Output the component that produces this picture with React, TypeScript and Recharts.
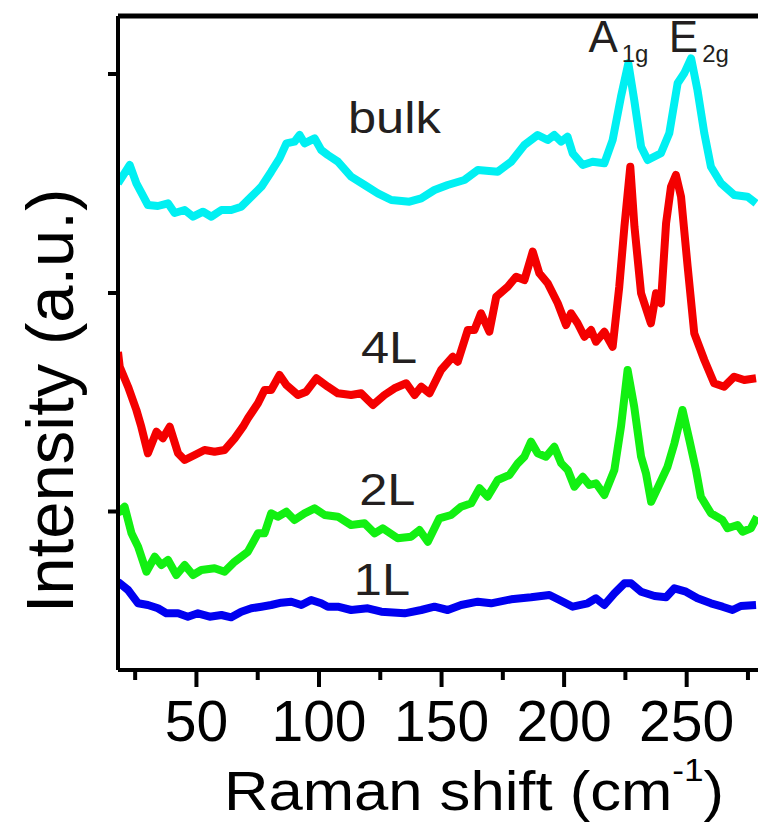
import React from 'react';
import { LineChart, Line, XAxis, YAxis, ReferenceDot, ReferenceArea } from 'recharts';

const FONT = '"Liberation Sans", Arial, sans-serif';
const INK = '#231f20';

// [Raman shift (cm-1), intensity (a.u.)]
const bulk: [number, number][] = [
  [18, 4867], [22.8, 5050], [25.5, 4867], [30.2, 4650], [34.3, 4640], [38.4, 4667], [41.1, 4570],
  [45.2, 4600], [48.6, 4533], [52.7, 4583], [56.1, 4533], [60.2, 4600], [64.2, 4600], [68.3, 4633],
  [72.4, 4733], [76.5, 4833], [80.5, 4983], [83.9, 5117], [86.7, 5267], [90.0, 5283], [92.1, 5350],
  [94.1, 5267], [98.2, 5317], [100.9, 5200], [103.6, 5150], [107.7, 5083], [113.1, 4933], [118.6, 4850],
  [124.0, 4767], [129.5, 4700], [136.9, 4683], [141.7, 4717], [147.1, 4800], [152.5, 4850], [159.3, 4900],
  [164.8, 5000], [172.9, 4983], [178.4, 5083], [183.8, 5250], [189.2, 5350], [193.3, 5300], [196.0, 5350],
  [198.8, 5283], [201.4, 5333], [203.5, 5167], [207.6, 5050], [211.6, 5083], [216.4, 5067], [219.8, 5300],
  [223.2, 5733], [226.2, 6067], [228.6, 5700], [231.4, 5233], [234.1, 5100], [239.5, 5167], [242.9, 5367],
  [246.3, 5867], [249.0, 5967], [251.8, 6117], [254.4, 5800], [257.2, 5367], [259.9, 5033], [264.0, 4867],
  [269.4, 4750], [274.8, 4733], [278.3, 4667],
];

const fourLayer: [number, number][] = [
  [18, 3180], [18.7, 3033], [22.1, 2833], [25.5, 2600], [27.5, 2433], [30.2, 2167], [33.7, 2383],
  [36.3, 2317], [39.1, 2433], [42.5, 2167], [45.2, 2100], [49.3, 2150], [53.3, 2200], [57.4, 2183],
  [61.5, 2200], [65.6, 2317], [69.0, 2433], [71.0, 2517], [75.1, 2667], [77.8, 2800], [80.5, 2800],
  [83.9, 2950], [86.7, 2850], [91.4, 2750], [94.8, 2783], [98.9, 2917], [103.6, 2833], [107.7, 2767],
  [113.1, 2750], [117.2, 2767], [122.0, 2650], [126.7, 2750], [130.8, 2817], [135.6, 2867], [139.0, 2750],
  [141.7, 2833], [145.1, 2767], [149.8, 3000], [154.6, 3133], [156.6, 3083], [160.7, 3400], [163.4, 3400],
  [166.1, 3567], [169.5, 3383], [172.3, 3733], [177.0, 3833], [180.4, 3933], [183.8, 3900], [187.2, 4183],
  [189.9, 3967], [193.3, 3867], [197.4, 3667], [200.8, 3450], [202.8, 3567], [205.5, 3467], [208.3, 3333],
  [211.0, 3400], [213.0, 3283], [216.4, 3383], [219.8, 3233], [222.5, 3833], [224.6, 4433], [227.0, 5033],
  [228.7, 4433], [231.4, 3767], [235.4, 3467], [237.5, 3767], [239.5, 3667], [241.6, 4467], [243.6, 4833],
  [245.6, 4950], [247.7, 4733], [250.4, 4033], [253.1, 3367], [257.2, 3100], [261.2, 2867], [265.3, 2833],
  [269.4, 2933], [273.5, 2900], [278.3, 2917],
];

const twoLayer: [number, number][] = [
  [18, 1570], [20.7, 1633], [23.5, 1367], [26.2, 1233], [29.6, 983], [33.0, 1133], [35.7, 1050],
  [38.4, 1100], [41.8, 950], [45.2, 1050], [48.6, 950], [52.0, 1000], [57.4, 1017], [61.5, 983],
  [65.6, 1083], [71.0, 1183], [75.1, 1367], [77.8, 1367], [80.5, 1567], [83.2, 1533], [86.7, 1583],
  [90.0, 1500], [94.1, 1567], [98.2, 1617], [102.3, 1550], [107.7, 1533], [113.1, 1450], [118.6, 1467],
  [122.7, 1367], [126.0, 1417], [132.1, 1317], [137.6, 1333], [141.0, 1400], [144.4, 1283], [149.1, 1517],
  [153.9, 1550], [158.0, 1633], [162.1, 1667], [165.5, 1817], [168.8, 1733], [172.9, 1900], [177.7, 1950],
  [181.1, 2067], [183.8, 2133], [186.5, 2283], [189.2, 2167], [192.6, 2133], [196.0, 2233], [198.8, 2067],
  [201.5, 2000], [204.2, 1833], [207.6, 1933], [210.3, 1850], [213.0, 1867], [216.4, 1750], [220.5, 2000],
  [223.2, 2433], [225.9, 3000], [228.6, 2633], [231.4, 2133], [233.4, 1967], [235.5, 1683], [238.1, 1817],
  [242.2, 2033], [245.0, 2267], [248.3, 2600], [251.1, 2300], [253.8, 2000], [255.8, 1733], [259.9, 1567],
  [264.6, 1500], [266.7, 1417], [270.8, 1450], [272.8, 1383], [276.2, 1417], [278.7, 1533],
];

const oneLayer: [number, number][] = [
  [18, 880], [22.1, 800], [26.2, 667], [30.2, 650], [34.3, 617], [37.7, 567], [42.5, 567],
  [46.5, 533], [50.6, 567], [55.4, 533], [60.2, 550], [64.2, 527], [68.3, 583], [72.4, 617],
  [76.5, 633], [80.5, 650], [84.6, 673], [88.7, 683], [92.8, 650], [96.8, 700], [100.9, 667],
  [103.6, 633], [107.7, 633], [113.1, 600], [119.9, 617], [125.4, 583], [134.9, 567], [141.7, 600],
  [147.1, 633], [152.5, 600], [158.0, 650], [164.8, 683], [170.2, 667], [178.4, 707], [186.5, 727],
  [194.0, 750], [198.1, 700], [203.5, 633], [209.6, 667], [213.0, 717], [216.4, 650], [220.5, 767],
  [224.6, 867], [227.3, 867], [231.4, 783], [236.9, 740], [241.6, 727], [245.0, 817], [249.7, 783],
  [254.4, 717], [259.9, 667], [264.6, 633], [268.7, 600], [272.1, 640], [278.3, 650],
];

const shiftDomain = [18, 279.1];
const shiftTicks = [25, 50, 75, 100, 125, 150, 175, 200, 225, 250, 275];
const shiftLabels = [50, 100, 150, 200, 250];
const intensityDomain = [0, 6540];
const intensityTicks = [1585, 3770, 5960];
// band that forms the top edge of the frame
const frameTop = [6515, 6565];

// sample names, placed in data coordinates
const sampleNames = [
  { text: 'bulk', shift: 111.8, intensity: 5370 },
  { text: '4L', shift: 117.1, intensity: 3070 },
  { text: '2L', shift: 116.4, intensity: 1650 },
  { text: '1L', shift: 114.2, intensity: 750 },
];
const modeNames = [
  { main: 'A', sub: '1g', shift: 209.9, intensity: 6183 },
  { main: 'E', sub: '2g', shift: 242.7, intensity: 6183 },
];

const toPoints = (rows: [number, number][]) => rows.map(([shift, intensity]) => ({ shift, intensity }));

const series = [
  { name: 'bulk', rows: bulk, color: '#00f0f2' },
  { name: '4L', rows: fourLayer, color: '#f40000' },
  { name: '2L', rows: twoLayer, color: '#12f012' },
  { name: '1L', rows: oneLayer, color: '#0000f0' },
];

const ShiftTick = (props: any) => {
  const { x, y, payload } = props;
  const major = shiftLabels.includes(payload.value);
  return (
    <g>
      <line x1={x} x2={x} y1={y} y2={y + (major ? 17 : 10)} stroke="#000" strokeWidth={4} />
      {major && (
        <text x={x} y={y + 71} textAnchor="middle" fontSize={57} fontFamily={FONT} fill="#000">
          {payload.value}
        </text>
      )}
    </g>
  );
};

const IntensityTick = (props: any) => {
  const { x, y } = props;
  return <line x1={x - 10} x2={x} y1={y} y2={y} stroke="#000" strokeWidth={4} />;
};

const XTitle = (props: any) => {
  const vb = props.viewBox || { x: 118, y: 670, width: 640, height: 155 };
  const cx = vb.x + vb.width / 2 + 36;
  const cy = vb.y + 140;
  return (
    <text transform={`translate(${cx},${cy}) scale(1.1,1)`} textAnchor="middle" fontSize={56} fontFamily={FONT} fill="#000">
      <tspan>Raman shift (cm</tspan>
      <tspan dy={-29} fontSize={32}>-1</tspan>
      <tspan dy={29}>)</tspan>
    </text>
  );
};

const YTitle = (props: any) => {
  const vb = props.viewBox || { x: 0, y: 16, width: 118, height: 654 };
  const cx = vb.x + 73;
  const cy = vb.y + vb.height / 2 + 58;
  return (
    <text x={cx} y={cy} transform={`rotate(-90 ${cx} ${cy})`} textAnchor="middle" fontSize={67} fontFamily={FONT} fill="#000">
      Intensity (a.u.)
    </text>
  );
};

export default function App() {
  return (
    <div style={{ position: 'absolute', left: 0, top: 0, width: 758, height: 825, background: '#fff' }}>
      <LineChart width={758} height={825} margin={{ top: 16, right: 0, bottom: 0, left: 0 }}>
        <XAxis
          type="number"
          dataKey="shift"
          domain={shiftDomain}
          ticks={shiftTicks}
          interval={0}
          allowDataOverflow
          height={155}
          axisLine={{ stroke: '#000', strokeWidth: 4 }}
          tickLine={false}
          tickSize={0}
          tickMargin={0}
          tick={<ShiftTick />}
          label={{ content: <XTitle /> }}
        />
        <YAxis
          type="number"
          dataKey="intensity"
          domain={intensityDomain}
          ticks={intensityTicks}
          interval={0}
          allowDataOverflow
          width={118}
          axisLine={{ stroke: '#000', strokeWidth: 4 }}
          tickLine={false}
          tickSize={0}
          tickMargin={0}
          tick={<IntensityTick />}
          label={{ content: <YTitle /> }}
        />
        <ReferenceArea
          y1={frameTop[0]}
          y2={frameTop[1]}
          ifOverflow="visible"
          fill="#000"
          fillOpacity={1}
          stroke="none"
        />
        {series.map((s) => (
          <Line
            key={s.name}
            data={toPoints(s.rows)}
            dataKey="intensity"
            type="linear"
            stroke={s.color}
            strokeWidth={8}
            strokeLinejoin="round"
            dot={false}
            isAnimationActive={false}
          />
        ))}
        {sampleNames.map((n) => (
          <ReferenceDot
            key={n.text}
            x={n.shift}
            y={n.intensity}
            r={0}
            ifOverflow="visible"
            shape={(p: any) => (
              <text transform={`translate(${p.cx},${p.cy}) scale(1.15,1)`} fontSize={44} fontFamily={FONT} fill={INK}>
                {n.text}
              </text>
            )}
          />
        ))}
        {modeNames.map((m) => (
          <ReferenceDot
            key={m.main}
            x={m.shift}
            y={m.intensity}
            r={0}
            ifOverflow="visible"
            shape={(p: any) => (
              <text x={p.cx} y={p.cy} fontSize={44} fontFamily={FONT} fill={INK}>
                <tspan>{m.main}</tspan>
                <tspan dx={4} dy={10} fontSize={24}>{m.sub}</tspan>
              </text>
            )}
          />
        ))}
      </LineChart>
    </div>
  );
}
